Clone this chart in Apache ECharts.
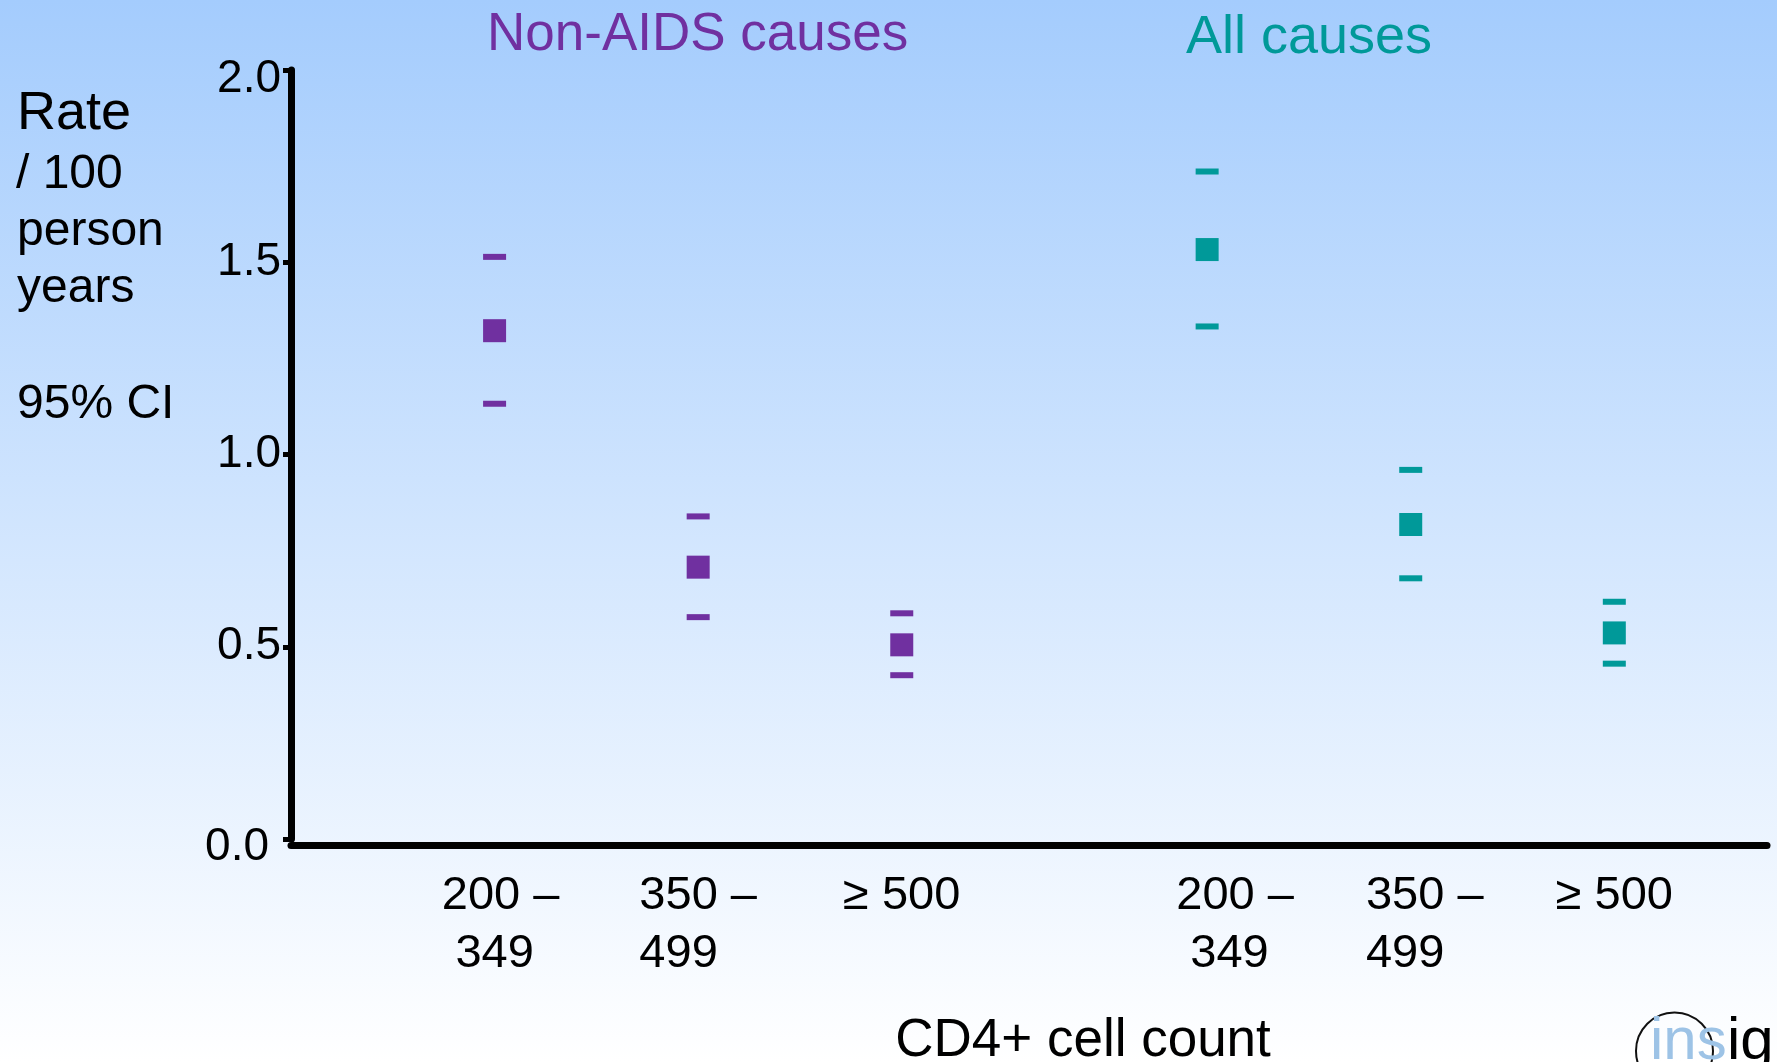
<!DOCTYPE html>
<html>
<head>
<meta charset="utf-8">
<script src="https://cdn.jsdelivr.net/npm/echarts@6/dist/echarts.min.js"></script>
<style>
html,body{margin:0;padding:0;}
#chart{width:1777px;height:1062px;}
</style>
</head>
<body>
<div id="chart"></div>
<script>
// ---- data ----
const categoryTop = ['200 –', '350 –', '≥ 500'];
const categoryBottom = ['349', '499', ''];
const slotNonAids = [1, 2, 3];
const slotAll = [4.5, 5.5, 6.5];
const nonAidsRate = [1.322, 0.707, 0.505];
const nonAidsLower = [1.132, 0.577, 0.426];
const nonAidsUpper = [1.514, 0.839, 0.587];
const allRate = [1.533, 0.818, 0.536];
const allLower = [1.333, 0.678, 0.456];
const allUpper = [1.736, 0.960, 0.617];
const yTicks = [0, 0.5, 1.0, 1.5, 2.0];

const PURPLE = '#7030a0';
const TEAL = '#009999';
const FONT = '"Liberation Sans", Arial, sans-serif';

const allSlots = slotNonAids.concat(slotAll);

// label style names per position (layout only)
const topStyle = ['g1a', 'c', 'c', 'g2a', 'g2b', 'c'];
const bottomStyle = ['c', 'l', 'c', 'g2a2', 'g2b2', 'c'];
const yLabelStyle = ['y0', 'y', 'y', 'y', 'y2'];

function labelFor(idx) {
  const k = idx % 3;
  let s = '{' + topStyle[idx] + '|' + categoryTop[k] + '}';
  if (categoryBottom[k]) s += '\n{' + bottomStyle[idx] + '|' + categoryBottom[k] + '}';
  return s;
}

function pts(slots, vals) { return vals.map((v, i) => [slots[i], v]); }

function rateSeries(name, slots, vals, color) {
  return { name, type: 'scatter', symbol: 'rect', symbolSize: 23,
    itemStyle: { color: color, opacity: 1 }, data: pts(slots, vals), silent: true, z: 3 };
}
function ciSeries(name, slots, vals, color) {
  return { name, type: 'scatter', symbol: 'rect', symbolSize: [23, 6],
    itemStyle: { color: color, opacity: 1 }, data: pts(slots, vals), silent: true, z: 3 };
}

const chart = echarts.init(document.getElementById('chart'), null, { renderer: 'canvas' });

const lab = { fontSize: 47, fontFamily: FONT, color: '#000', lineHeight: 58 };
const ylab = { fontSize: 46, fontFamily: FONT, color: '#000' };

chart.setOption({
  backgroundColor: {
    type: 'linear', x: 0, y: 0, x2: 0, y2: 1,
    colorStops: [{ offset: 0, color: '#a4ccfd' }, { offset: 1, color: '#ffffff' }]
  },
  animation: false,
  grid: { left: 291, right: 10, top: 70, bottom: 223, containLabel: false, outerBoundsMode: 'none' },
  xAxis: {
    type: 'value', min: 0, max: 7.25,
    offset: 6,
    axisLine: { show: true, onZero: false, lineStyle: { color: '#000', width: 7 } },
    axisTick: { show: false },
    splitLine: { show: false },
    axisLabel: {
      customValues: allSlots,
      formatter: function (v) {
        const idx = allSlots.findIndex(s => Math.abs(s - v) < 1e-6);
        return idx >= 0 ? labelFor(idx) : '';
      },
      color: '#000', fontSize: 47, fontFamily: FONT, lineHeight: 58, margin: 22,
      align: 'center',
      rich: {
        c: Object.assign({ align: 'center' }, lab),
        l: Object.assign({ align: 'left' }, lab),
        g1a: Object.assign({ align: 'center', padding: [0, 0, 0, 12] }, lab),
        g2a: Object.assign({ align: 'center', padding: [0, 0, 0, 56] }, lab),
        g2a2: Object.assign({ align: 'left', padding: [0, 0, 0, 70] }, lab),
        g2b: Object.assign({ align: 'center', padding: [0, 0, 0, 28] }, lab),
        g2b2: Object.assign({ align: 'left', padding: [0, 0, 0, 28] }, lab)
      }
    }
  },
  yAxis: {
    type: 'value', min: 0, max: 2, interval: 0.5,
    axisLine: { show: true, lineStyle: { color: '#000', width: 7 } },
    axisTick: { show: true, length: 8, lineStyle: { color: '#000', width: 5 } },
    splitLine: { show: false },
    axisLabel: {
      color: '#000', fontSize: 46, fontFamily: FONT, margin: 10,
      customValues: yTicks,
      formatter: function (v) {
        const idx = yTicks.findIndex(t => Math.abs(t - v) < 1e-6);
        const st = idx >= 0 ? yLabelStyle[idx] : 'y';
        return '{' + st + '|' + v.toFixed(1) + '}';
      },
      rich: {
        y: Object.assign({}, ylab),
        y0: Object.assign({ padding: [16, 12, 0, 0] }, ylab),
        y2: Object.assign({ padding: [18, 0, 0, 0] }, ylab)
      }
    }
  },
  series: [
    rateSeries('Non-AIDS rate', slotNonAids, nonAidsRate, PURPLE),
    ciSeries('Non-AIDS lower', slotNonAids, nonAidsLower, PURPLE),
    ciSeries('Non-AIDS upper', slotNonAids, nonAidsUpper, PURPLE),
    rateSeries('All rate', slotAll, allRate, TEAL),
    ciSeries('All lower', slotAll, allLower, TEAL),
    ciSeries('All upper', slotAll, allUpper, TEAL)
  ],
  graphic: [
    { type: 'text', left: 487, top: 9, style: { text: 'Non-AIDS causes', fill: PURPLE, font: '53px ' + FONT } },
    { type: 'text', left: 1186, top: 11, style: { text: 'All causes', fill: TEAL, font: '54px ' + FONT } },
    { type: 'text', x: 17, y: 114, style: { text: 'Rate', fill: '#000', font: '54px ' + FONT, verticalAlign: 'middle' } },
    { type: 'text', x: 16, y: 175, style: { text: '/ 100', fill: '#000', font: '48px ' + FONT, verticalAlign: 'middle' } },
    { type: 'text', x: 17, y: 232, style: { text: 'person', fill: '#000', font: '48px ' + FONT, verticalAlign: 'middle' } },
    { type: 'text', x: 17, y: 289, style: { text: 'years', fill: '#000', font: '48px ' + FONT, verticalAlign: 'middle' } },
    { type: 'text', x: 17, y: 405, style: { text: '95% CI', fill: '#000', font: '48px ' + FONT, verticalAlign: 'middle' } },
    { type: 'text', x: 1083, y: 1041, style: { text: 'CD4+ cell count', fill: '#000', font: '53px ' + FONT, align: 'center', verticalAlign: 'middle' } },
    { type: 'circle', shape: { cx: 1674.5, cy: 1051, r: 38.5 }, style: { fill: 'none', stroke: '#111', lineWidth: 2 } },
    { type: 'text', x: 1650, y: 1072, style: { text: 'ins', fill: '#9dc3e6', font: '60px ' + FONT, verticalAlign: 'bottom' } },
    { type: 'text', x: 1727, y: 1072, style: { text: 'ight', fill: '#000', font: '60px ' + FONT, verticalAlign: 'bottom' } }
  ]
});
</script>
</body>
</html>
